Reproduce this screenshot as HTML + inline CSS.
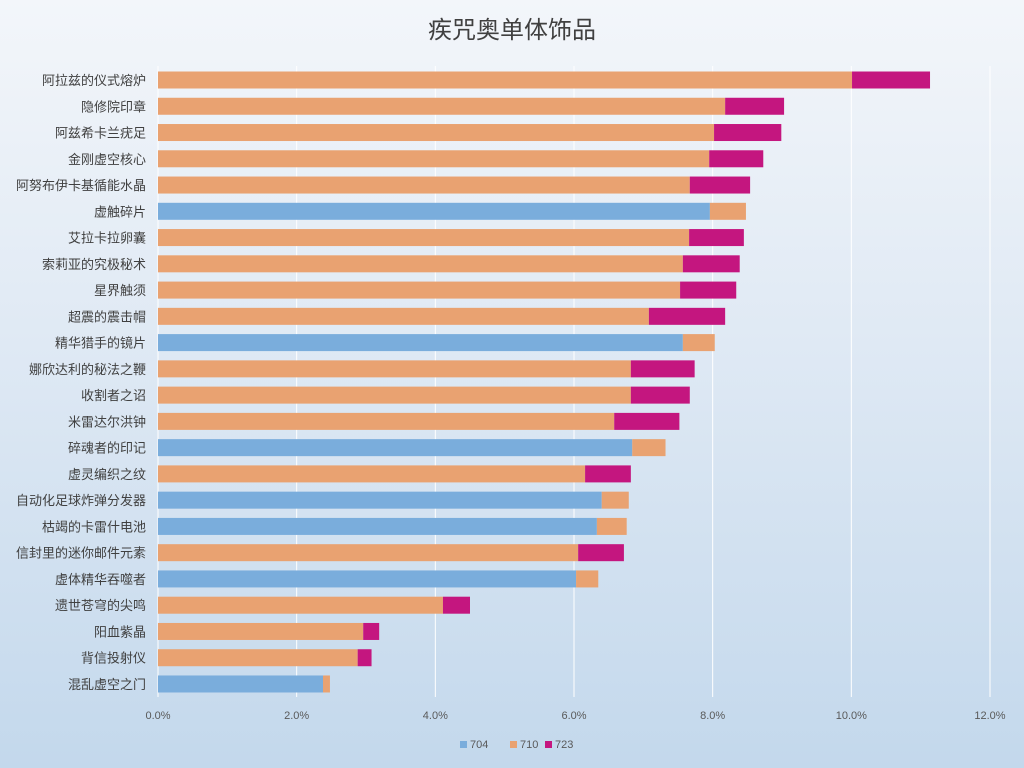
<!DOCTYPE html>
<html><head><meta charset="utf-8"><style>
body{margin:0;width:1024px;height:768px;overflow:hidden;font-family:"Liberation Sans","Noto Sans CJK SC",sans-serif;}
#bg{position:absolute;left:0;top:0;width:1024px;height:768px;background:linear-gradient(#f3f6fa 0%,#dfe9f4 45%,#c3d8ec 100%);}
</style></head><body>
<div id="bg"></div>
<svg id="c" width="1024" height="768" style="position:absolute;left:0;top:0"></svg>
<script>
const categories=["阿拉兹的仪式熔炉","隐修院印章","阿兹希卡兰疣足","金刚虚空核心","阿努布伊卡基循能水晶","虚触碎片","艾拉卡拉卵囊","索莉亚的究极秘术","星界触须","超震的震击帽","精华猎手的镜片","娜欣达利的秘法之鞭","收割者之诏","米雷达尔洪钟","碎魂者的印记","虚灵编织之纹","自动化足球炸弹分发器","枯竭的卡雷什电池","信封里的迷你邮件元素","虚体精华吞噬者","遗世苍穹的尖鸣","阳血紫晶","背信投射仪","混乱虚空之门"];
const s704=[0,0,0,0,0,7.96,0,0,0,0,7.57,0,0,0,6.84,0,6.40,6.33,0,6.03,0,0,0,2.38];
const s710=[10.01,8.18,8.02,7.95,7.67,0.52,7.66,7.57,7.53,7.08,0.46,6.82,6.82,6.58,0.48,6.16,0.39,0.43,6.06,0.32,4.11,2.96,2.88,0.10];
const s723=[1.125,0.85,0.97,0.78,0.87,0,0.79,0.82,0.81,1.10,0,0.92,0.85,0.94,0,0.66,0,0,0.66,0,0.39,0.23,0.20,0];
const ticks=[0,2,4,6,8,10,12];
const seriesNames=["704","710","723"];
const colors=["#7aaddc","#e9a271","#c4167f"];
const NS="http://www.w3.org/2000/svg",svg=document.getElementById('c');
const x=v=>158+v*(832/12), yc=i=>80+i*26.26, BH=17;
function mk(t,a,p){const e=document.createElementNS(NS,t);for(const k in a)e.setAttribute(k,a[k]);(p||svg).appendChild(e);return e;}
const title=mk('text',{x:512,y:38,'text-anchor':'middle','font-size':24,fill:'#404040'});
title.textContent="疾咒奥单体饰品";


ticks.forEach(t=>{
 const l=mk('line',{x1:x(t),x2:x(t),y1:66,y2:697,stroke:'#ffffff','stroke-width':1});
 
 
 const tx=mk('text',{x:x(t),y:719,'text-anchor':'middle','font-size':11,fill:'#595959'});
 tx.textContent=t.toFixed(1)+"%";
 
 
});
categories.forEach((c,i)=>{
 const lb=mk('text',{x:146,y:yc(i)+5,'text-anchor':'end','font-size':13,fill:'#404040'});
 lb.textContent=c;
 
 
 let acc=0;
 [s704,s710,s723].forEach((s,k)=>{
  const v=s[i]; if(!v)return;
  const r=mk('rect',{x:x(acc),y:yc(i)-BH/2,width:x(acc+v)-x(acc),height:BH,fill:colors[k]});
  
  
  acc+=v;
 });
});
const lx=[460,510,545];
seriesNames.forEach((n,k)=>{
 const g=mk('g',{});
 
 
 mk('rect',{x:lx[k],y:741,width:7,height:7,fill:colors[k]},g);
 const t=mk('text',{x:lx[k]+10,y:748,'font-size':11,fill:'#595959'},g);
 t.textContent=n;
});
</script>
</body></html>
